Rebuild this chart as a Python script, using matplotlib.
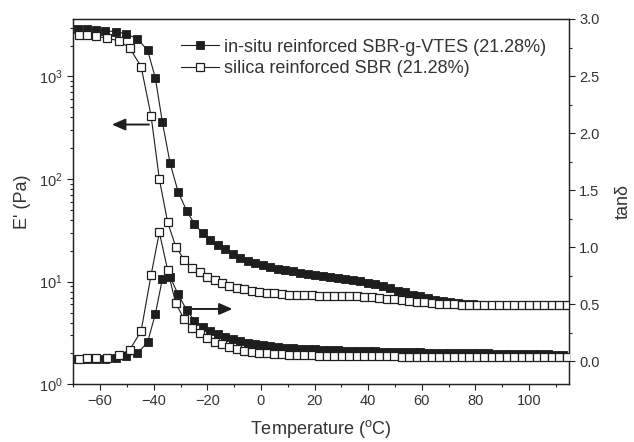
import matplotlib
matplotlib.use("Agg")
import matplotlib.pyplot as plt

plt.rcParams['font.family'] = ['Liberation Sans', 'DejaVu Sans']
plt.rcParams['mathtext.fontset'] = 'custom'
plt.rcParams['mathtext.rm'] = 'Liberation Sans'
plt.rcParams['mathtext.it'] = 'Liberation Sans:italic'
plt.rcParams['mathtext.bf'] = 'Liberation Sans:bold'

# ---------------- data ----------------
# in-situ reinforced SBR-g-VTES (filled squares)
temp_insitu = [-68.3, -64.9, -61.7, -58.1, -54.2, -50.2, -46.1, -42.3, -39.4, -36.8,
               -33.9, -30.9, -27.7, -24.8, -21.8, -19.0, -16.2, -13.4, -10.6, -7.8,
               -5.0, -2.2, 0.6, 3.4, 6.2, 9.0, 11.8, 14.6, 17.4, 20.2,
               23.0, 25.8, 28.6, 31.4, 34.2, 37.0, 39.8, 42.6, 45.4, 48.2,
               51.0, 53.8, 56.6, 59.4, 62.2, 65.0, 67.8, 70.6, 73.4, 76.2,
               79.0, 81.8, 84.6, 87.4, 90.2, 93.0, 95.8, 98.6, 101.4, 104.2,
               107.0, 109.8, 112.6]
modulus_insitu = [2900, 2880, 2840, 2795, 2730, 2600, 2320, 1810, 967, 362,
                  143, 75, 49, 36.5, 29.6, 25.5, 22.8, 20.7, 18.8, 17.2,
                  16.0, 15.2, 14.5, 13.9, 13.4, 13.0, 12.6, 12.2, 11.9, 11.6,
                  11.4, 11.1, 10.9, 10.6, 10.4, 10.1, 9.8, 9.4, 9.0, 8.6,
                  8.2, 7.9, 7.5, 7.2, 6.9, 6.7, 6.5, 6.3, 6.2, 6.1,
                  6.0, 5.95, 5.9, 5.9, 5.9, 5.9, 5.9, 5.9, 5.9, 5.9,
                  5.9, 5.9, 5.9]
tan_insitu = [0.02, 0.02, 0.02, 0.02, 0.03, 0.048, 0.071, 0.168, 0.416, 0.72,
              0.74, 0.588, 0.45, 0.357, 0.304, 0.27, 0.24, 0.215, 0.195, 0.178,
              0.163, 0.15, 0.14, 0.132, 0.125, 0.12, 0.116, 0.112, 0.108, 0.105,
              0.102, 0.1, 0.098, 0.096, 0.094, 0.092, 0.09, 0.088, 0.086, 0.085,
              0.083, 0.082, 0.08, 0.079, 0.078, 0.077, 0.076, 0.075, 0.074, 0.073,
              0.072, 0.071, 0.07, 0.069, 0.068, 0.067, 0.066, 0.065, 0.064, 0.063,
              0.062, 0.061, 0.06]

# silica reinforced SBR (open squares)
temp_silica = [-67.9, -64.9, -61.4, -57.3, -53.1, -49.0, -44.7, -41.0, -37.9, -34.8,
               -31.8, -28.6, -25.6, -22.8, -20.0, -17.3, -14.6, -11.9, -9.1, -6.3,
               -3.5, -0.7, 2.1, 4.9, 7.7, 10.5, 13.3, 16.1, 18.9, 21.7,
               24.5, 27.3, 30.1, 32.9, 35.7, 38.5, 41.3, 44.1, 46.9, 49.7,
               52.5, 55.3, 58.1, 60.9, 63.7, 66.5, 69.3, 72.1, 74.9, 77.7,
               80.5, 83.3, 86.1, 88.9, 91.7, 94.5, 97.3, 100.1, 102.9, 105.7,
               108.5, 111.3, 114.1]
modulus_silica = [2540, 2520, 2470, 2355, 2230, 1900, 1245, 415, 99.5, 37.9,
                  22.0, 16.3, 13.7, 12.3, 11.2, 10.4, 9.8, 9.1, 8.7, 8.4,
                  8.2, 7.95, 7.8, 7.7, 7.6, 7.5, 7.45, 7.4, 7.35, 7.3,
                  7.3, 7.25, 7.25, 7.25, 7.25, 7.15, 7.05, 6.95, 6.85, 6.75,
                  6.65, 6.5, 6.4, 6.3, 6.2, 6.1, 6.05, 6.0, 5.95, 5.9,
                  5.9, 5.9, 5.9, 5.9, 5.9, 5.9, 5.9, 5.9, 5.9, 5.9,
                  5.9, 5.9, 5.95]
tan_silica = [0.025, 0.028, 0.028, 0.028, 0.057, 0.1, 0.267, 0.757, 1.13, 0.80,
              0.509, 0.369, 0.296, 0.252, 0.208, 0.173, 0.15, 0.129, 0.11, 0.094,
              0.085, 0.077, 0.07, 0.065, 0.062, 0.06, 0.057, 0.055, 0.053, 0.052,
              0.051, 0.05, 0.049, 0.048, 0.047, 0.046, 0.045, 0.045, 0.044, 0.044,
              0.043, 0.043, 0.042, 0.042, 0.041, 0.041, 0.04, 0.04, 0.04, 0.039,
              0.039, 0.039, 0.038, 0.038, 0.038, 0.037, 0.037, 0.037, 0.036, 0.036,
              0.036, 0.035, 0.035]

label_insitu = "in-situ reinforced SBR-g-VTES (21.28%)"
label_silica = "silica reinforced SBR (21.28%)"

x_ticks = [-60, -40, -20, 0, 20, 40, 60, 80, 100]
tan_ticks = [0.0, 0.5, 1.0, 1.5, 2.0, 2.5, 3.0]

# ---------------- figure ----------------
W, H = 634, 442
fig = plt.figure(figsize=(W / 100, H / 100), dpi=100)
L, R, T, B = 73.3, 569.3, 19.0, 384.3
ax = fig.add_axes([L / W, 1 - B / H, (R - L) / W, (B - T) / H])
ax2 = ax.twinx()

dark = '#1e1e1e'
txt = '#333333'
lw = 0.8

ax.plot(temp_insitu, modulus_insitu, '-', color=dark, lw=lw, marker='s', ms=5.8,
        mfc=dark, mec=dark, mew=0.6, label=label_insitu, zorder=3)
ax.plot(temp_silica, modulus_silica, '-', color=dark, lw=lw, marker='s', ms=5.4,
        mfc='white', mec=dark, mew=0.9, label=label_silica, zorder=4)
ax2.plot(temp_insitu, tan_insitu, '-', color=dark, lw=lw, marker='s', ms=5.8,
         mfc=dark, mec=dark, mew=0.6, zorder=3)
ax2.plot(temp_silica, tan_silica, '-', color=dark, lw=lw, marker='s', ms=5.4,
         mfc='white', mec=dark, mew=0.9, zorder=4)

ax.set_yscale('log')
ax.set_xlim(-70, 115)
ax.set_ylim(1, 10 ** 3.56)
ax2.set_ylim(-0.2, 3.0)
ax.set_xticks(x_ticks)
ax.set_xticks(range(-70, 116, 10), minor=True)
ax2.set_yticks(tan_ticks)
ax2.set_yticks([i * 0.25 for i in range(0, 13)], minor=True)
ax2.set_yticklabels([f"{v:.1f}" for v in tan_ticks])

for a in (ax, ax2):
    for s in a.spines.values():
        s.set_linewidth(0.9)
        s.set_color('#222222')
    a.tick_params(which='major', direction='out', length=4, width=0.8,
                  colors='#222222', labelcolor=txt, labelsize=10.5)
    a.tick_params(which='minor', direction='out', length=2.3, width=0.8,
                  colors='#222222')
ax.tick_params(axis='y', which='both', right=False)
ax.tick_params(axis='x', which='both', top=False, pad=3)
ax2.tick_params(axis='y', which='both', left=False, pad=3)

ax.set_xlabel("Temperature ($^{\\mathrm{o}}$C)", fontsize=13, color=txt)
ax.set_ylabel("E' (Pa)", fontsize=13, color=txt)
ax2.set_ylabel("tan\u03b4", fontsize=13, color=txt)
ax.xaxis.set_label_coords(0.5, (B - 418) / (B - T))
ax.yaxis.set_label_coords((31 - L) / (R - L), 0.5)
ax2.yaxis.set_label_coords((615 - L) / (R - L), 0.5)

# arrows
ax.annotate('', xy=(-55.6, 340), xytext=(-41.8, 340),
            arrowprops=dict(arrowstyle='-|>,head_length=0.8,head_width=0.35',
                            color=dark, lw=1.4, shrinkA=0, shrinkB=0))
ax2.annotate('', xy=(-10.6, 0.46), xytext=(-25.9, 0.46),
             arrowprops=dict(arrowstyle='-|>,head_length=0.8,head_width=0.35',
                             color=dark, lw=1.4, shrinkA=0, shrinkB=0))

leg = ax.legend(loc='upper left', bbox_to_anchor=(181 / W, 1 - 38.5 / H),
                bbox_transform=fig.transFigure, frameon=False, fontsize=13,
                numpoints=1, handlelength=2.1, handletextpad=0.3,
                labelspacing=0.25, borderpad=0, borderaxespad=0)
for t in leg.get_texts():
    t.set_color(txt)

fig.savefig('out.png', dpi=100)
